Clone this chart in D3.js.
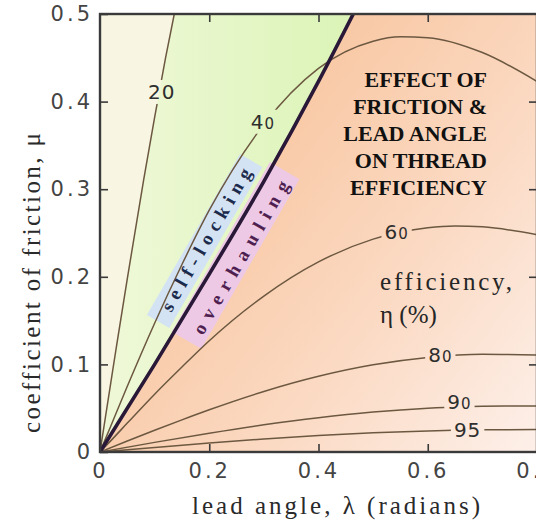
<!DOCTYPE html>
<html>
<head>
<meta charset="utf-8">
<script src="https://cdn.jsdelivr.net/npm/d3@7"></script>
<style>
  html, body { margin: 0; padding: 0; background: #ffffff; }
  svg { display: block; }
</style>
</head>
<body>
<svg id="chart" width="536" height="525"></svg>
<script>
// Thread efficiency against lead angle λ and coefficient of friction μ:
// lines of equal efficiency η, plus the self-locking / overhauling boundary.

const xTicks = [0, 0.2, 0.4, 0.6, 0.8];
const xTickLabels = ["0", "0.2", "0.4", "0.6", "0.8"];
const yTicks = [0, 0.1, 0.2, 0.3, 0.4, 0.5];
const yTickLabels = ["0", "0.1", "0.2", "0.3", "0.4", "0.5"];

// η = 20 %
const eff20Lambda = [0, 0.02, 0.03, 0.05, 0.08, 0.10, 0.12, 0.136];
const eff20Mu     = [0, 0.080, 0.120, 0.198, 0.311, 0.382, 0.450, 0.500];
// η = 40 %
const eff40Lambda = [0, 0.02, 0.05, 0.10, 0.15, 0.20, 0.30, 0.40, 0.50, 0.55, 0.60, 0.70, 0.80];
const eff40Mu     = [0, 0.030, 0.075, 0.147, 0.214, 0.276, 0.374, 0.438, 0.469, 0.474, 0.473, 0.456, 0.423];
// η = 60 %
const eff60Lambda = [0, 0.02, 0.05, 0.10, 0.15, 0.20, 0.30, 0.40, 0.50, 0.60, 0.65, 0.70, 0.80];
const eff60Mu     = [0, 0.013, 0.033, 0.066, 0.097, 0.127, 0.178, 0.217, 0.243, 0.256, 0.258, 0.257, 0.248];
// η = 80 %
const eff80Lambda = [0, 0.05, 0.10, 0.15, 0.20, 0.30, 0.40, 0.50, 0.60, 0.70, 0.80];
const eff80Mu     = [0, 0.0125, 0.0248, 0.0367, 0.0482, 0.0691, 0.0864, 0.0995, 0.1079, 0.1116, 0.1107];
// η = 90 %
const eff90Lambda = [0, 0.10, 0.20, 0.30, 0.40, 0.50, 0.60, 0.70, 0.80];
const eff90Mu     = [0, 0.0110, 0.0215, 0.0311, 0.0392, 0.0456, 0.0500, 0.0523, 0.0525];
// η = 95 %
const eff95Lambda = [0, 0.10, 0.20, 0.30, 0.40, 0.50, 0.60, 0.70, 0.80];
const eff95Mu     = [0, 0.0052, 0.0102, 0.0148, 0.0187, 0.0219, 0.0241, 0.0254, 0.0256];

const efficiencyLevels = [20, 40, 60, 80, 90, 95];
// where each level's number sits on its line
const levelLabelLambda = [0.113, 0.298, 0.543, 0.623, 0.658, 0.673];
const levelLabelMu     = [0.411, 0.377, 0.251, 0.111, 0.057, 0.025];

// boundary between self-locking and overhauling threads (μ = tan λ)
const boundaryLambda = [0, 0.10, 0.20, 0.30, 0.40, 0.4636];
const boundaryMu     = [0, 0.100, 0.203, 0.309, 0.423, 0.500];

const titleLines = ["EFFECT OF", "FRICTION &", "LEAD ANGLE", "ON THREAD", "EFFICIENCY"];

// ---------------------------------------------------------------------------
const svg = d3.select("#chart");
const x = d3.scaleLinear().domain([0, 0.8]).range([100, 537]);
const y = d3.scaleLinear().domain([0, 0.5]).range([452, 14]);

const zip = (ls, ms) => ls.map((l, i) => [l, ms[i]]);
const contours = [
  zip(eff20Lambda, eff20Mu),
  zip(eff40Lambda, eff40Mu),
  zip(eff60Lambda, eff60Mu),
  zip(eff80Lambda, eff80Mu),
  zip(eff90Lambda, eff90Mu),
  zip(eff95Lambda, eff95Mu)
];
const boundary = zip(boundaryLambda, boundaryMu);
const line = d3.line().x(d => x(d[0])).y(d => y(d[1])).curve(d3.curveMonotoneX);

const defs = svg.append("defs");
defs.append("clipPath").attr("id", "plotClip")
  .append("rect")
  .attr("x", x(0)).attr("y", y(0.5))
  .attr("width", x(0.8) - x(0)).attr("height", y(0) - y(0.5));

const peach = defs.append("linearGradient").attr("id", "peach")
  .attr("gradientUnits", "userSpaceOnUse")
  .attr("x1", 200).attr("y1", 180).attr("x2", 536).attr("y2", 440);
peach.append("stop").attr("offset", 0).attr("stop-color", "#f8c7a2");
peach.append("stop").attr("offset", 0.5).attr("stop-color", "#fbd9c2");
peach.append("stop").attr("offset", 1).attr("stop-color", "#fdefe8");

const green = defs.append("linearGradient").attr("id", "green")
  .attr("gradientUnits", "userSpaceOnUse")
  .attr("x1", 120).attr("y1", 0).attr("x2", 340).attr("y2", 0);
green.append("stop").attr("offset", 0).attr("stop-color", "#eef8d6");
green.append("stop").attr("offset", 1).attr("stop-color", "#dcf4b8");

const mask = defs.append("mask").attr("id", "labelGaps")
  .attr("maskUnits", "userSpaceOnUse")
  .attr("x", 0).attr("y", 0).attr("width", 536).attr("height", 525);
mask.append("rect").attr("width", 536).attr("height", 525).attr("fill", "#fff");

// ---- plot area ------------------------------------------------------------
const plot = svg.append("g").attr("clip-path", "url(#plotClip)");

plot.append("rect")
  .attr("x", x(0)).attr("y", y(0.5))
  .attr("width", x(0.8) - x(0)).attr("height", y(0) - y(0.5))
  .attr("fill", "url(#peach)");

// self-locking side of the boundary
plot.append("path")
  .attr("d", line(boundary) + `L${x(0)},${y(0.5)}Z`)
  .attr("fill", "url(#green)");

// low-efficiency strip next to the μ axis
plot.append("path")
  .attr("d", line(contours[0]) + `L${x(0)},${y(0.5)}Z`)
  .attr("fill", "#f8f6e2");

// frame aligned with the boundary line for the two captions
const p0 = [x(boundaryLambda[0]), y(boundaryMu[0])];
const p1 = [x(boundaryLambda[boundaryLambda.length - 1]), y(boundaryMu[boundaryMu.length - 1])];
const ang = Math.atan2(p1[1] - p0[1], p1[0] - p0[0]) * 180 / Math.PI;
const along = plot.append("g").attr("transform", `translate(${p0[0]},${p0[1]}) rotate(${ang})`);
along.append("rect").attr("x", 142).attr("y", -28).attr("width", 186).attr("height", 26)
  .attr("fill", "#d3e3f3");
along.append("rect").attr("x", 140).attr("y", 2).attr("width", 196).attr("height", 34)
  .attr("fill", "#edc9e5");

// efficiency lines
plot.append("g").attr("mask", "url(#labelGaps)")
  .selectAll("path").data(contours).join("path")
  .attr("d", line)
  .attr("fill", "none")
  .attr("stroke", "#6c5840")
  .attr("stroke-width", 1.5);

plot.append("path")
  .attr("d", line(boundary))
  .attr("fill", "none")
  .attr("stroke", "#2a1838")
  .attr("stroke-width", 3.6);

const captions = svg.append("g")
  .attr("transform", `translate(${p0[0]},${p0[1]}) rotate(${ang})`)
  .attr("font-family", "'Liberation Serif', serif")
  .attr("font-weight", "bold")
  .attr("font-size", 19);
captions.append("text").attr("x", 237).attr("y", -8)
  .attr("text-anchor", "middle").attr("fill", "#1c2a4c")
  .attr("textLength", 162).attr("lengthAdjust", "spacing")
  .text("self-locking");
captions.append("text").attr("x", 239).attr("y", 31)
  .attr("text-anchor", "middle").attr("fill", "#4e1f50")
  .attr("textLength", 174).attr("lengthAdjust", "spacing")
  .text("overhauling");

// ---- frame and axes -------------------------------------------------------
const axisColor = "#3a3a3a";
function styleAxis(g) {
  g.select(".domain").remove();
  g.selectAll(".tick line").attr("stroke", axisColor).attr("stroke-width", 1.6);
  g.selectAll(".tick text")
    .attr("fill", "#444444")
    .attr("font-family", "'DejaVu Sans', sans-serif")
    .attr("font-size", 21)
    .attr("letter-spacing", 3);
}

svg.append("g").attr("transform", `translate(0,${y(0)})`)
  .call(d3.axisBottom(x).tickValues(xTicks).tickFormat((d, i) => xTickLabels[i])
    .tickSize(-8).tickPadding(11))
  .call(styleAxis);

svg.append("g").attr("transform", `translate(${x(0)},0)`)
  .call(d3.axisLeft(y).tickValues(yTicks).tickFormat((d, i) => yTickLabels[i])
    .tickSize(-8).tickPadding(7))
  .call(styleAxis);

svg.append("g").attr("transform", `translate(0,${y(0.5)})`)
  .call(d3.axisTop(x).tickValues(xTicks.slice(1, -1)).tickFormat("").tickSize(-8))
  .call(styleAxis);

svg.append("g").attr("transform", `translate(${x(0.8)},0)`)
  .call(d3.axisRight(y).tickValues(yTicks.slice(1, -1)).tickFormat("").tickSize(-8))
  .call(styleAxis);

svg.append("rect")
  .attr("x", x(0)).attr("y", y(0.5))
  .attr("width", x(0.8) - x(0)).attr("height", y(0) - y(0.5))
  .attr("fill", "none").attr("stroke", axisColor).attr("stroke-width", 2.4);

// ---- level numbers, cut into their lines ----------------------------------
const levels = svg.append("g")
  .attr("font-family", "'DejaVu Sans', sans-serif")
  .attr("font-size", 20)
  .attr("fill", "#2e2e2e");
efficiencyLevels.forEach((lev, i) => {
  const t = levels.append("text")
    .attr("x", x(levelLabelLambda[i]))
    .attr("y", y(levelLabelMu[i]) + 7)
    .attr("text-anchor", "middle")
    .attr("letter-spacing", 1);
  const s = String(lev);
  if (lev >= 40 && s.endsWith("0")) {
    t.append("tspan").text(s.slice(0, -1));
    t.append("tspan").attr("font-size", 15).text("0");
  } else {
    t.text(s);
  }
  const b = t.node().getBBox();
  mask.append("rect")
    .attr("x", b.x - 3).attr("y", b.y)
    .attr("width", b.width + 6).attr("height", b.height)
    .attr("fill", "#000");
});

// ---- texts ----------------------------------------------------------------
const title = svg.append("text")
  .attr("font-family", "'Liberation Serif', serif")
  .attr("font-weight", "bold")
  .attr("font-size", 22)
  .attr("fill", "#111111")
  .attr("text-anchor", "end");
titleLines.forEach((s, i) => {
  title.append("tspan").attr("x", 487).attr("y", 87 + i * 27).text(s);
});

const effNote = svg.append("g")
  .attr("font-family", "'Liberation Serif', serif")
  .attr("font-size", 25)
  .attr("fill", "#262626");
effNote.append("text").attr("x", 380).attr("y", 290)
  .attr("textLength", 132).attr("lengthAdjust", "spacing")
  .text("efficiency,");
effNote.append("text").attr("x", 380).attr("y", 323)
  .text("η (%)");

svg.append("text")
  .attr("x", 336).attr("y", 514)
  .attr("text-anchor", "middle")
  .attr("font-family", "'Liberation Serif', serif")
  .attr("font-size", 25)
  .attr("fill", "#2a2a2a")
  .attr("textLength", 288).attr("lengthAdjust", "spacing")
  .text("lead angle, λ (radians)");

svg.append("text")
  .attr("transform", "translate(40,283) rotate(-90)")
  .attr("text-anchor", "middle")
  .attr("font-family", "'Liberation Serif', serif")
  .attr("font-size", 25)
  .attr("fill", "#2a2a2a")
  .attr("textLength", 300).attr("lengthAdjust", "spacing")
  .text("coefficient of friction, μ");
</script>
</body>
</html>
